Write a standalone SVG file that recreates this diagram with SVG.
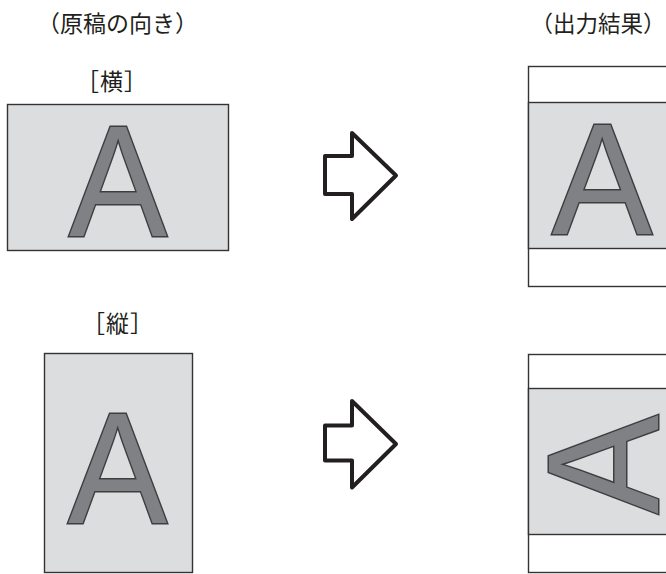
<svg xmlns="http://www.w3.org/2000/svg" width="666" height="574" viewBox="0 0 666 574">
<style>
.lbl{font-family:"Noto Sans CJK JP","Noto Sans",sans-serif;font-size:23px;fill:#231f20;text-anchor:middle}
.page{fill:#ffffff;stroke:#333333;stroke-width:1.4}
.gray{fill:#dcdddf;stroke:#333333;stroke-width:1.4}
.a{font-family:"Liberation Sans",Arial,sans-serif;font-size:158px;fill:#808184;stroke:#3e3e40;stroke-width:3;paint-order:stroke;stroke-linejoin:miter;text-anchor:middle}
.arrow{fill:#ffffff;stroke:#231f20;stroke-width:4;stroke-linejoin:round}
</style>
<rect width="666" height="574" fill="#ffffff"/>
<text class="lbl" x="117.5" y="32">（原稿の向き）</text>
<text class="lbl" x="598" y="32" style="font-size:22.5px">（出力結果）</text>
<text class="lbl" x="112" y="90" letter-spacing="1">［横］</text>
<text class="lbl" x="118" y="332" letter-spacing="1">［縦］</text>
<g id="landscape-original">
<rect class="gray" x="7.5" y="104.5" width="221" height="146"/>
<text class="a" x="118" y="236" transform="translate(118 0) scale(0.93 1) translate(-118 0)">A</text>
</g>
<g id="landscape-output">
<rect class="page" x="528.5" y="66.5" width="148" height="220"/>
<rect class="gray" x="528.5" y="102.5" width="148" height="146"/>
<text class="a" x="602" y="234" transform="translate(602 0) scale(0.95 1) translate(-602 0)">A</text>
</g>
<g id="portrait-original">
<rect class="gray" x="44.5" y="353.5" width="148" height="219"/>
<text class="a" x="117.5" y="523" transform="translate(117.5 0) scale(0.94 1) translate(-117.5 0)">A</text>
</g>
<g id="portrait-output">
<rect class="page" x="528.5" y="354.5" width="148" height="218"/>
<rect class="gray" x="528.5" y="388.5" width="148" height="146"/>
<text class="a" transform="translate(658 464.5) rotate(-90) scale(0.94 1)" x="0" y="0">A</text>
</g>
<g id="connectors">
<path class="arrow" d="M325,156 H352 V133 L396,175.5 L352,219 V194 H325 Z"/>
<path class="arrow" d="M325,425.5 H352 V401 L396,444 L352,487.5 V460.5 H325 Z"/>
</g>
</svg>
